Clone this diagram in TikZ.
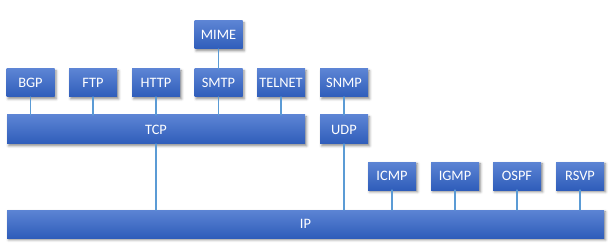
\documentclass[tikz,border=0pt]{standalone}
\usepackage{fontspec}
\setmainfont{Carlito}
\usepackage{tikz}
\usetikzlibrary{
    shadows.blur
}
\definecolor{boxtop}{RGB}{92,132,212}
\definecolor{boxbot}{RGB}{47,93,186}
\definecolor{wire}{RGB}{91,155,213}

\begin{document}
\begin{tikzpicture}[x=0.75pt,y=-0.75pt,line cap=round,line join=round,
   proto/.style={rectangle,inner sep=0pt,outer sep=0pt,
     minimum width=36pt,minimum height=21pt,
     top color=boxtop,bottom color=boxbot,text=white,font=\fontsize{10.8}{12}\selectfont,
     blur shadow={shadow xshift=1.2pt,shadow yshift=-1.4pt,shadow blur steps=4,shadow opacity=45}},
   wirestyle/.style={draw=wire,line width=0.8pt}]
\useasboundingbox (0,0) rectangle (613,249);
% application layer
\foreach\n/\x in {BGP/30.5,FTP/93,HTTP/156,SMTP/218.5,TELNET/281,SNMP/344}
{%
  \node[proto] (\n) at (\x,83) {\n};
}
\node[proto] (MIME) at (218.5,35) {MIME};
% transport layer
\node[proto,minimum width=223.5pt,minimum height=21.75pt] (TCP) at (156,129.5) {TCP};
\node[proto,minimum height=21.75pt] (UDP) at (344,129.5) {UDP};
% network layer
\foreach\n/\x in {ICMP/392,IGMP/455,OSPF/517,RSVP/580}
{%
  \node[proto] (\n) at (\x,176) {\n};
}
\node[proto,minimum width=447.75pt] (IP) at (305.5,224) {IP};
% connections
\draw[wirestyle] (MIME.south) -- (SMTP.north);
\foreach\n in {BGP,FTP,HTTP,SMTP,TELNET}
  \draw[wirestyle] (\n.south) -- (\n.south |- TCP.north);
\draw[wirestyle] (SNMP.south) -- (UDP.north);
\draw[wirestyle] (TCP.south) -- (TCP.south |- IP.north);
\draw[wirestyle] (UDP.south) -- (UDP.south |- IP.north);
\foreach\n in {ICMP,IGMP,OSPF,RSVP}
  \draw[wirestyle] (\n.south) -- (\n.south |- IP.north);
\end{tikzpicture}
\end{document}
